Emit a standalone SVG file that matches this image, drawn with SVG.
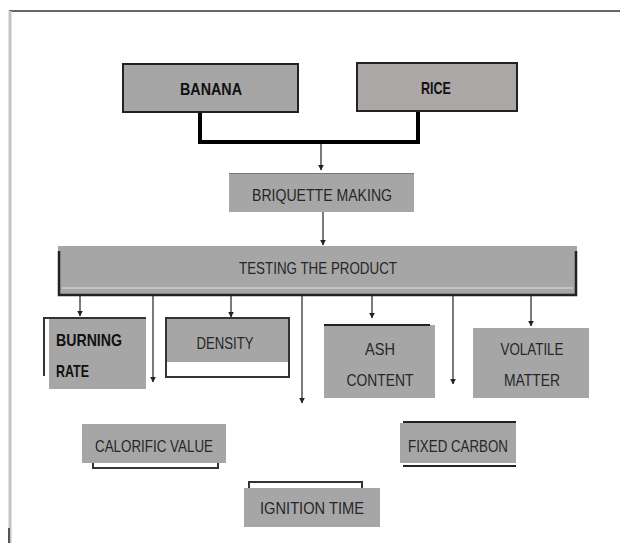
<svg xmlns="http://www.w3.org/2000/svg" width="620" height="543" viewBox="0 0 620 543">
<defs>
<marker id="ah" viewBox="0 0 10 10" refX="9" refY="5" markerWidth="6" markerHeight="6" orient="auto" markerUnits="userSpaceOnUse">
<path d="M0,0 L10,5 L0,10 z" fill="#222"/>
</marker>
<style>
.box{fill:#a6a6a6;}
.t{font-family:"Liberation Sans",Arial,sans-serif;font-size:17px;fill:#262626;text-anchor:middle;dominant-baseline:central;}
.b{font-weight:bold;fill:#111;}
.dk{fill:none;stroke:#333;stroke-width:2;}
.ar{fill:none;stroke:#333;stroke-width:1.3;marker-end:url(#ah);}
</style>
</defs>
<rect width="620" height="543" fill="#fff"/>
<g id="frame">
<line x1="9" y1="11" x2="620" y2="11" stroke="#666" stroke-width="2"/>
<line x1="10" y1="11" x2="10" y2="543" stroke="#c4c4c4" stroke-width="3"/>
<line x1="9" y1="528" x2="9" y2="543" stroke="#555" stroke-width="2"/>
</g>
<g id="connectors">
<path d="M200,112 V142 H418 V111" fill="none" stroke="#000" stroke-width="4"/>
<line class="ar" x1="321" y1="144" x2="321" y2="170"/>
<line class="ar" x1="323" y1="212" x2="323" y2="245"/>
<line class="ar" x1="80" y1="296" x2="80" y2="316"/>
<line class="ar" x1="153" y1="296" x2="153" y2="382"/>
<line class="ar" x1="231" y1="296" x2="231" y2="317"/>
<line class="ar" x1="302" y1="296" x2="302" y2="403"/>
<line class="ar" x1="372" y1="296" x2="372" y2="318"/>
<line class="ar" x1="453" y1="289" x2="453" y2="384"/>
<line class="ar" x1="531" y1="296" x2="531" y2="326"/>
</g>
<g id="banana">
<rect x="123" y="64" width="175" height="48" class="box" stroke="#222" stroke-width="2"/>
<text class="t b" x="211" y="89" textLength="62" lengthAdjust="spacingAndGlyphs">BANANA</text>
</g>
<g id="rice">
<rect x="357" y="63" width="160" height="48" fill="#aba7a6" stroke="#222" stroke-width="2"/>
<text class="t b" x="436" y="88" textLength="30" lengthAdjust="spacingAndGlyphs">RICE</text>
</g>
<g id="briquette">
<rect x="229" y="173" width="185" height="39" class="box"/>
<line x1="229" y1="173.5" x2="414" y2="173.5" stroke="#777" stroke-width="1"/>
<text class="t" x="322" y="195" textLength="140" lengthAdjust="spacingAndGlyphs">BRIQUETTE MAKING</text>
</g>
<g id="testing">
<rect x="58" y="246" width="519" height="50" class="box"/>
<path d="M59,251 V295 H576 V251" fill="none" stroke="#222" stroke-width="2.5"/>
<line x1="62" y1="288" x2="573" y2="288" stroke="#e0e0e0" stroke-width="1"/>
<text class="t" x="318" y="268" textLength="158" lengthAdjust="spacingAndGlyphs">TESTING THE PRODUCT</text>
</g>
<g id="burning-rate">
<rect x="49" y="318" width="97" height="71" class="box"/>
<path d="M44,376 V318 H146" class="dk"/>
<text class="t b" x="56" y="340" style="text-anchor:start" textLength="66" lengthAdjust="spacingAndGlyphs">BURNING</text>
<text class="t b" x="56" y="371" style="text-anchor:start" textLength="33" lengthAdjust="spacingAndGlyphs">RATE</text>
</g>
<g id="density">
<rect x="166" y="318" width="123" height="59" fill="#fff" class="dk"/>
<rect x="167" y="319" width="121" height="43" class="box"/>
<text class="t" x="225" y="343" textLength="57" lengthAdjust="spacingAndGlyphs">DENSITY</text>
</g>
<g id="ash-content">
<rect x="324" y="325" width="111" height="73" class="box"/>
<line x1="324" y1="325" x2="430" y2="325" stroke="#222" stroke-width="2"/>
<text class="t" x="380" y="349" textLength="30" lengthAdjust="spacingAndGlyphs">ASH</text>
<text class="t" x="380" y="380" textLength="67" lengthAdjust="spacingAndGlyphs">CONTENT</text>
</g>
<g id="volatile-matter">
<rect x="473" y="328" width="116" height="70" class="box"/>
<text class="t" x="532" y="349" textLength="63" lengthAdjust="spacingAndGlyphs">VOLATILE</text>
<text class="t" x="532" y="380" textLength="56" lengthAdjust="spacingAndGlyphs">MATTER</text>
</g>
<g id="calorific-value">
<path d="M93,460 V468 H218 V460" class="dk"/>
<rect x="82" y="424" width="144" height="39" class="box"/>
<text class="t" x="154" y="446" textLength="118" lengthAdjust="spacingAndGlyphs">CALORIFIC VALUE</text>
</g>
<g id="fixed-carbon">
<rect x="400" y="423" width="116" height="40" class="box"/>
<line x1="403" y1="422" x2="516" y2="422" stroke="#222" stroke-width="2"/>
<line x1="403" y1="466" x2="516" y2="466" stroke="#222" stroke-width="2"/>
<text class="t" x="458" y="446" textLength="100" lengthAdjust="spacingAndGlyphs">FIXED CARBON</text>
</g>
<g id="ignition-time">
<path d="M249,490 V482 H362 V490" class="dk"/>
<rect x="244" y="488" width="136" height="39" class="box"/>
<text class="t" x="312" y="508" textLength="104" lengthAdjust="spacingAndGlyphs">IGNITION TIME</text>
</g>
</svg>
